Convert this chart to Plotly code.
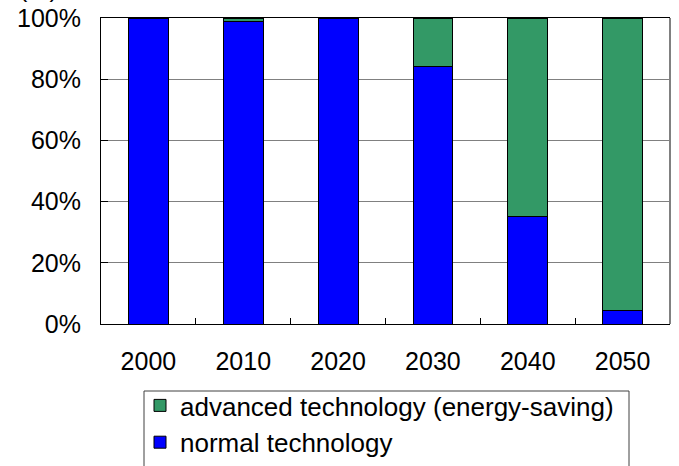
import plotly.graph_objects as go

# Share of technology by year (%)
years = ["2000", "2010", "2020", "2030", "2040", "2050"]
normal_tech = [100, 99, 100, 84.3, 35, 4.3]
advanced_tech = [0, 1, 0, 15.7, 65, 95.7]
y_ticks = [0, 20, 40, 60, 80, 100]
y_tick_text = ["0%", "20%", "40%", "60%", "80%", "100%"]

FONT = "Liberation Sans, Arial, sans-serif"
FS = 25

fig = go.Figure()
fig.add_trace(go.Bar(
    x=years, y=normal_tech, name="normal technology",
    marker=dict(color="#0000FF", line=dict(color="#000000", width=1)),
))
fig.add_trace(go.Bar(
    x=years, y=advanced_tech, name="advanced technology (energy-saving)",
    marker=dict(color="#339966", line=dict(color="#000000", width=1)),
))

W, H = 679, 466
ml, mr, mt, mb = 101, 9, 18, 142
pw, ph = W - ml - mr, H - mt - mb

def px_x(p):
    return (p - ml) / pw

def px_y(p):
    return (H - mb - p) / ph

fig.update_layout(
    width=W, height=H,
    margin=dict(l=ml, r=mr, t=mt, b=mb, autoexpand=False),
    barmode="stack", bargap=0.58,
    paper_bgcolor="white", plot_bgcolor="white",
    font=dict(family=FONT, size=FS, color="black"),
    showlegend=True,
    legend=dict(
        x=px_x(140), y=px_y(382), xanchor="left", yanchor="top",
        traceorder="reversed",
        bgcolor="rgba(0,0,0,0)", borderwidth=0,
        font=dict(family=FONT, size=26, color="black"),
    ),
    xaxis=dict(
        showline=True, linecolor="black", linewidth=1, mirror=True,
        ticks="inside", ticklen=6, tickcolor="black", tickson="boundaries",
        ticklabelstandoff=15, showgrid=False, fixedrange=True, automargin=False,
    ),
    yaxis=dict(
        range=[0, 100], tickvals=y_ticks, ticktext=y_tick_text,
        showline=True, linecolor="black", linewidth=1,
        ticks="inside", ticklen=7, tickcolor="black",
        showgrid=True, gridcolor="#808080", gridwidth=1,
        ticklabelstandoff=14, zeroline=False, fixedrange=True, automargin=False,
    ),
    shapes=[
        # right edge of the plot area
        dict(type="line", xref="paper", yref="paper", x0=1, x1=1, y0=0, y1=1,
             line=dict(color="#808080", width=2)),
        # legend frame (left, top and right sides)
        dict(type="path", xref="paper", yref="paper", layer="above",
             path=(f"M {px_x(144)},{px_y(467)} L {px_x(144)},{px_y(391)} "
                   f"L {px_x(629)},{px_y(391)} L {px_x(629)},{px_y(467)}"),
             line=dict(color="#404040", width=1)),
    ],
    annotations=[
        dict(text="(%)", xref="paper", yref="paper", x=px_x(38), y=px_y(4),
             xanchor="center", yanchor="bottom", showarrow=False,
             font=dict(family=FONT, size=FS, color="black")),
    ],
)

fig.write_html("out.html")
